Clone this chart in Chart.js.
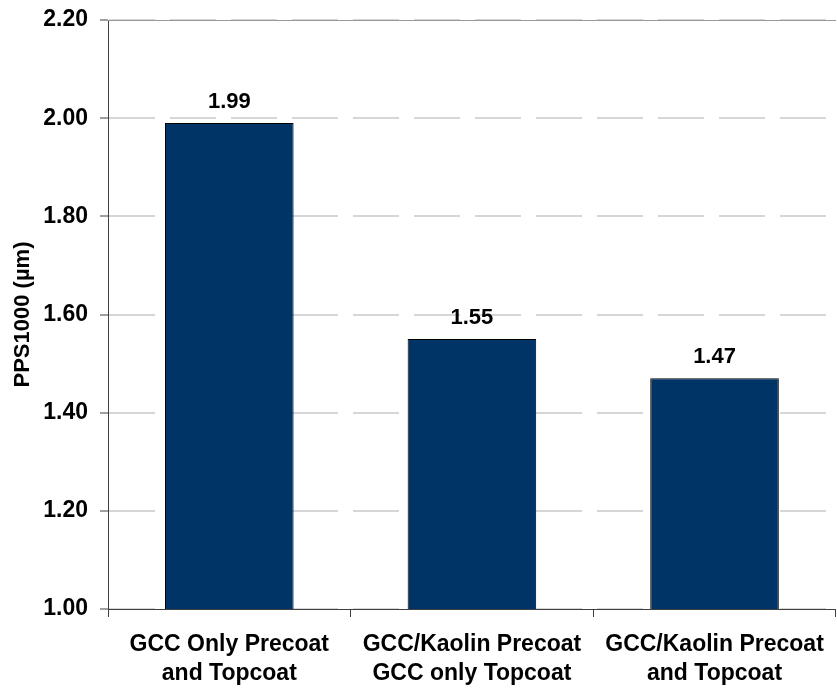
<!DOCTYPE html>
<html>
<head>
<meta charset="utf-8">
<script src="https://cdn.jsdelivr.net/npm/chart.js@4/dist/chart.umd.min.js"></script>
<style>
    html, body { margin: 0; padding: 0; background: #fff; }
    #wrap { width: 837px; height: 689px; }
</style>
</head>
<body>
<div id="wrap"><canvas id="ppsChart"></canvas></div>
<script>
// Datos del gráfico
const categories = [
    ['GCC Only Precoat', 'and Topcoat'],
    ['GCC/Kaolin Precoat', 'GCC only Topcoat'],
    ['GCC/Kaolin Precoat', 'and Topcoat']
];
const ppsValues = [1.99, 1.55, 1.47];
const yTicks = [1.00, 1.20, 1.40, 1.60, 1.80, 2.00, 2.20];
const yTitle = 'PPS1000 (\u00b5m)';

const fontFamily = '"Liberation Sans", Arial, sans-serif';
const axisColor = '#404040';

// Etiquetas de valor sobre cada barra
const valueLabels = {
    id: 'valueLabels',
    afterDatasetsDraw(chart) {
        const ctx = chart.ctx;
        const meta = chart.getDatasetMeta(0);
        ctx.save();
        ctx.font = 'bold 22px ' + fontFamily;
        ctx.fillStyle = '#000';
        ctx.textAlign = 'center';
        ctx.textBaseline = 'alphabetic';
        meta.data.forEach(function(bar, i) {
            ctx.fillText(ppsValues[i].toFixed(2), bar.x, bar.y - 15);
        });
        ctx.restore();
    }
};

new Chart(document.getElementById('ppsChart'), {
    type: 'bar',
    data: {
        labels: categories,
        datasets: [{
            data: ppsValues,
            backgroundColor: '#003366',
            borderColor: '#000',
            borderWidth: 1,
            borderSkipped: false,
            categoryPercentage: 1,
            barPercentage: 0.53
        }]
    },
    options: {
        responsive: true,
        maintainAspectRatio: false,
        animation: false,
        layout: { padding: { top: 20, right: 0, left: 0, bottom: 0 } },
        plugins: {
            legend: { display: false },
            tooltip: { enabled: false }
        },
        scales: {
            y: {
                min: yTicks[0],
                max: yTicks[yTicks.length - 1],
                afterBuildTicks: function(scale) {
                    scale.ticks = yTicks.map(v => ({ value: v }));
                },
                afterFit: function(scale) {
                    scale.width = 108;
                    scale.paddingTop = 0;
                    scale.paddingBottom = 0;
                },
                ticks: {
                    color: '#000',
                    padding: 12,
                    font: { family: fontFamily, size: 23, weight: 'bold' },
                    callback: v => Number(v).toFixed(2)
                },
                grid: {
                    color: '#d6d6d6',
                    lineWidth: 2,
                    tickLength: 8,
                    tickColor: axisColor,
                    tickWidth: 1,
                    tickBorderDash: []
                },
                border: { display: true, color: axisColor, width: 1, dash: [46, 15] },
                title: {
                    display: true,
                    text: yTitle,
                    color: '#000',
                    font: { family: fontFamily, size: 22, weight: 'bold' },
                    padding: { top: 10, bottom: 0 }
                }
            },
            x: {
                afterFit: function(scale) { scale.height = 80; },
                ticks: {
                    color: '#000',
                    padding: 13,
                    font: { family: fontFamily, size: 23, weight: 'bold', lineHeight: 1.26 },
                    maxRotation: 0,
                    autoSkip: false
                },
                grid: {
                    offset: true,
                    drawOnChartArea: false,
                    tickLength: 8,
                    tickColor: axisColor,
                    tickWidth: 1
                },
                border: { display: true, color: axisColor, width: 1 }
            },
            // línea superior del área de trazado
            xTop: {
                type: 'category',
                position: 'top',
                afterFit: function(scale) { scale.height = 0; },
                ticks: { display: false },
                grid: { display: false },
                border: { display: true, color: '#999', width: 1 }
            }
        }
    },
    plugins: [valueLabels]
});
</script>
</body>
</html>
